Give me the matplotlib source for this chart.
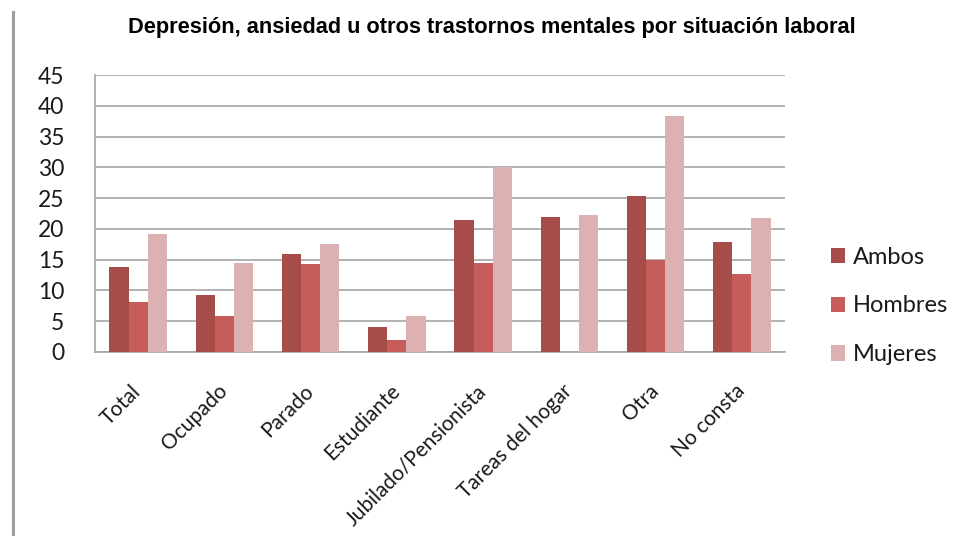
import matplotlib
matplotlib.use("Agg")
import matplotlib.pyplot as plt
import numpy as np
from matplotlib.lines import Line2D

categories = ["Total", "Ocupado", "Parado", "Estudiante", "Jubilado/Pensionista",
              "Tareas del hogar", "Otra", "No consta"]
series_names = ["Ambos", "Hombres", "Mujeres"]
ambos = [13.8, 9.3, 16.0, 4.1, 21.4, 22.0, 25.3, 17.8]
hombres = [8.2, 5.9, 14.3, 2.0, 14.5, 0.0, 15.0, 12.6]
mujeres = [19.1, 14.5, 17.5, 5.9, 30.1, 22.2, 38.4, 21.8]
yticks = [0, 5, 10, 15, 20, 25, 30, 35, 40, 45]
title = "Depresión, ansiedad u otros trastornos mentales por situación laboral"

colors = ["#A64D4A", "#C75D5A", "#DCB1B1"]

plt.rcParams['font.family'] = ['Lato', 'DejaVu Sans']

fig = plt.figure(figsize=(9.68, 5.36), dpi=100)
ax = fig.add_axes([95/968, 1-352/536, (785-95)/968, (352-75)/536])

x = np.arange(len(categories))
w = 0.222
for i, (vals, name) in enumerate(zip([ambos, hombres, mujeres], series_names)):
    ax.bar(x + (i-1)*w, vals, width=w, color=colors[i], label=name,
           edgecolor='none', zorder=3)

ax.set_xlim(-0.5, len(categories)-0.5)
ax.set_ylim(0, 45)
ax.set_yticks(yticks)
ax.set_yticklabels([str(v) for v in yticks])
ax.grid(axis='y', color='#A6A6A6', linewidth=1.2, zorder=0)
ax.set_axisbelow(True)
for s in ['top', 'right']:
    ax.spines[s].set_visible(False)
for s in ['left', 'bottom']:
    ax.spines[s].set_color('#A6A6A6')
    ax.spines[s].set_linewidth(1.2)
ax.tick_params(axis='y', length=0, pad=22, labelsize=16.5, labelcolor='#1a1a1a')
ax.tick_params(axis='x', length=0, pad=26, labelsize=15, labelcolor='#1a1a1a')
ax.set_xticks(x)
ax.set_xticklabels(categories, rotation=45, ha='right', va='center',
                   rotation_mode='anchor')

fig.text(492/968, 1-28/536, title, ha='center', va='center',
         fontsize=15.7, fontweight='bold', family=['Liberation Sans', 'DejaVu Sans'],
         color='black')

leg = ax.legend(loc='center left', bbox_to_anchor=(819/968, 1-306/536),
                bbox_transform=fig.transFigure, frameon=False, fontsize=17,
                handlelength=0.62, handleheight=0.62, handletextpad=0.3,
                labelspacing=1.18, borderpad=0)
for t in leg.get_texts():
    t.set_color('#1a1a1a')

fig.add_artist(Line2D([13/968, 13/968], [0, 1-12/536], transform=fig.transFigure,
                      color='#9E9E9E', linewidth=2.2))

fig.savefig("out.png", dpi=100)
